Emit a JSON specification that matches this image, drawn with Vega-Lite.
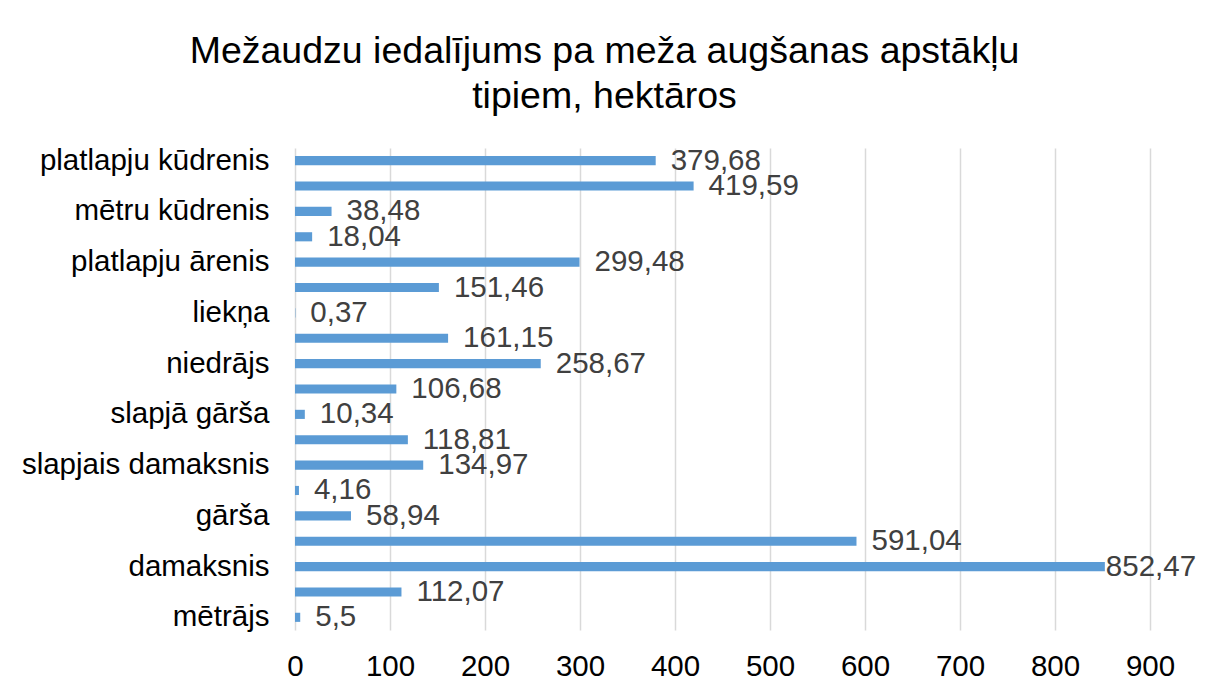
{
  "$schema": "https://vega.github.io/schema/vega-lite/v6.json",
  "autosize": {"type": "none"},
  "width": 855,
  "height": 482,
  "padding": {"left": 295, "top": 148, "right": 58, "bottom": 64},
  "background": "white",
  "title": {
    "text": ["Mežaudzu iedalījums pa meža augšanas apstākļu", "tipiem, hektāros"],
    "font": "Liberation Sans",
    "fontSize": 37.5,
    "fontWeight": "normal",
    "color": "#000000",
    "anchor": "middle",
    "dx": -118,
    "offset": 30,
    "lineHeight": 45
  },
  "data": {
    "values": [
      {"tips": "platlapju kūdrenis", "ha": 379.68},
      {"tips": "šaurlapju kūdrenis", "ha": 419.59},
      {"tips": "mētru kūdrenis", "ha": 38.48},
      {"tips": "viršu kūdrenis", "ha": 18.04},
      {"tips": "platlapju ārenis", "ha": 299.48},
      {"tips": "šaurlapju ārenis", "ha": 151.46},
      {"tips": "liekņa", "ha": 0.37},
      {"tips": "dumbrājs", "ha": 161.15},
      {"tips": "niedrājs", "ha": 258.67},
      {"tips": "purvājs", "ha": 106.68},
      {"tips": "slapjā gārša", "ha": 10.34},
      {"tips": "slapjais vēris", "ha": 118.81},
      {"tips": "slapjais damaksnis", "ha": 134.97},
      {"tips": "slapjais mētrājs", "ha": 4.16},
      {"tips": "gārša", "ha": 58.94},
      {"tips": "vēris", "ha": 591.04},
      {"tips": "damaksnis", "ha": 852.47},
      {"tips": "lāns", "ha": 112.07},
      {"tips": "mētrājs", "ha": 5.5}
    ]
  },
  "encoding": {
    "y": {
      "field": "tips",
      "type": "nominal",
      "sort": null,
      "scale": {"paddingInner": 0.64, "paddingOuter": 0.32},
      "axis": {
        "title": null,
        "values": ["platlapju kūdrenis", "mētru kūdrenis", "platlapju ārenis", "liekņa", "niedrājs", "slapjā gārša", "slapjais damaksnis", "gārša", "damaksnis", "mētrājs"],
        "ticks": false,
        "domain": false,
        "grid": false,
        "labelFont": "Liberation Sans",
        "labelFontSize": 29.5,
        "labelColor": "#000000",
        "labelPadding": 26,
        "labelLimit": 0
      }
    },
    "x": {
      "field": "ha",
      "type": "quantitative",
      "scale": {"domain": [0, 900], "nice": false},
      "axis": {
        "title": null,
        "values": [0, 100, 200, 300, 400, 500, 600, 700, 800, 900],
        "grid": true,
        "gridColor": "#d9d9d9",
        "gridWidth": 1.5,
        "ticks": false,
        "domain": false,
        "labelFont": "Liberation Sans",
        "labelFontSize": 29.5,
        "labelColor": "#000000",
        "labelPadding": 22,
        "labelFlush": false,
        "format": "d"
      }
    }
  },
  "layer": [
    {"mark": {"type": "bar", "color": "#5B9BD5"}},
    {
      "transform": [{"filter": "datum.ha < 800"}],
      "mark": {"type": "text", "align": "left", "baseline": "middle", "dx": 15, "font": "Liberation Sans", "fontSize": 29.5, "color": "#404040"},
      "encoding": {"text": {"field": "ha", "type": "quantitative", "format": ".2~f"}}
    },
    {
      "transform": [{"filter": "datum.ha >= 800"}],
      "mark": {"type": "text", "align": "left", "baseline": "middle", "dx": 1, "font": "Liberation Sans", "fontSize": 29.5, "color": "#404040"},
      "encoding": {"text": {"field": "ha", "type": "quantitative", "format": ".2~f"}}
    }
  ],
  "config": {
    "view": {"stroke": null},
    "locale": {"number": {"decimal": ",", "thousands": " ", "grouping": [3], "currency": ["", ""]}}
  }
}
